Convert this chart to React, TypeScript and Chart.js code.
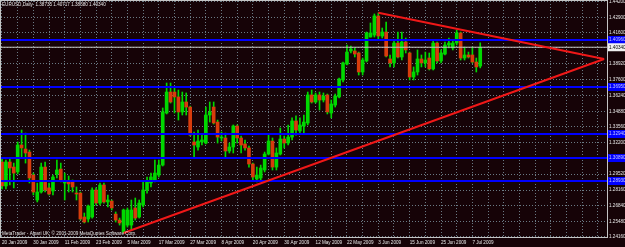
import React, { useEffect, useRef } from 'react';
import { Chart, registerables } from 'chart.js';
Chart.register(...registerables);

const symbolName = 'EURUSD,Daily';
const copyrightText = 'MetaTrader - Alpari UK, \u00a9 2001-2009 MetaQuotes Software Corp.';

const dateLabels = ['20 Jan 2009', '30 Jan 2009', '11 Feb 2009', '23 Feb 2009', '5 Mar 2009', '17 Mar 2009', '27 Mar 2009', '8 Apr 2009', '20 Apr 2009', '30 Apr 2009', '12 May 2009', '22 May 2009', '3 Jun 2009', '15 Jun 2009', '25 Jun 2009', '7 Jul 2009'];

const openP = [1.3055, 1.2851, 1.3055, 1.3012, 1.2970, 1.3200, 1.3166, 1.3140, 1.2944, 1.2731, 1.2799, 1.3012, 1.2834, 1.2808, 1.2953, 1.2995, 1.2876, 1.2885, 1.2885, 1.2790, 1.2790, 1.2586, 1.2569, 1.2586, 1.2816, 1.2705, 1.2859, 1.2714, 1.2722, 1.2611, 1.2560, 1.2458, 1.2517, 1.2517, 1.2663, 1.2586, 1.2688, 1.2816, 1.2876, 1.2902, 1.2944, 1.3029, 1.3473, 1.3652, 1.3652, 1.3610, 1.3482, 1.3567, 1.3524, 1.3226, 1.3183, 1.3226, 1.3217, 1.3456, 1.3524, 1.3396, 1.3260, 1.3260, 1.3149, 1.3183, 1.3362, 1.3260, 1.3209, 1.3175, 1.3038, 1.2910, 1.2919, 1.2987, 1.3123, 1.3234, 1.3012, 1.3123, 1.3251, 1.3217, 1.3268, 1.3405, 1.3320, 1.3362, 1.3388, 1.3627, 1.3567, 1.3627, 1.3584, 1.3627, 1.3473, 1.3541, 1.3610, 1.3755, 1.3891, 1.4002, 1.4002, 1.3985, 1.3823, 1.3917, 1.4121, 1.4138, 1.4301, 1.4130, 1.4164, 1.3934, 1.3900, 1.4070, 1.3951, 1.4079, 1.3985, 1.3780, 1.3823, 1.3934, 1.3900, 1.3942, 1.3849, 1.4070, 1.3917, 1.3976, 1.4053, 1.4028, 1.4070, 1.4156, 1.3942, 1.3968, 1.3968, 1.3908, 1.38735];
const highP = [1.3089, 1.3072, 1.3089, 1.3046, 1.3226, 1.3328, 1.3302, 1.3157, 1.2961, 1.2876, 1.3046, 1.3055, 1.2876, 1.2944, 1.3072, 1.3046, 1.2961, 1.2936, 1.2902, 1.2842, 1.2799, 1.2620, 1.2688, 1.2834, 1.2834, 1.2876, 1.2876, 1.2774, 1.2731, 1.2629, 1.2577, 1.2654, 1.2663, 1.2731, 1.2748, 1.2731, 1.2885, 1.2927, 1.2961, 1.3072, 1.3072, 1.3516, 1.3729, 1.3729, 1.3686, 1.3669, 1.3652, 1.3644, 1.3533, 1.3311, 1.3328, 1.3285, 1.3524, 1.3567, 1.3567, 1.3413, 1.3311, 1.3302, 1.3217, 1.3371, 1.3371, 1.3277, 1.3243, 1.3192, 1.3046, 1.3012, 1.3029, 1.3140, 1.3285, 1.3260, 1.3175, 1.3345, 1.3277, 1.3371, 1.3431, 1.3448, 1.3431, 1.3456, 1.3652, 1.3669, 1.3644, 1.3652, 1.3644, 1.3635, 1.3584, 1.3635, 1.3772, 1.3908, 1.4053, 1.4045, 1.4028, 1.3993, 1.3942, 1.4164, 1.4241, 1.4318, 1.4326, 1.4198, 1.4249, 1.3968, 1.4096, 1.4164, 1.4164, 1.4113, 1.3993, 1.3866, 1.4011, 1.3968, 1.3993, 1.3985, 1.4096, 1.4079, 1.4011, 1.4079, 1.4113, 1.4096, 1.4181, 1.4164, 1.4036, 1.3993, 1.4036, 1.3942, 1.40717];
const lowP = [1.2825, 1.2825, 1.2859, 1.2834, 1.2953, 1.3097, 1.3046, 1.2876, 1.2774, 1.2714, 1.2790, 1.2799, 1.2774, 1.2774, 1.2919, 1.2885, 1.2731, 1.2799, 1.2799, 1.2731, 1.2560, 1.2535, 1.2543, 1.2577, 1.2688, 1.2688, 1.2705, 1.2671, 1.2646, 1.2543, 1.2517, 1.2450, 1.2500, 1.2475, 1.2560, 1.2577, 1.2671, 1.2790, 1.2842, 1.2885, 1.2927, 1.3021, 1.3465, 1.3558, 1.3473, 1.3413, 1.3456, 1.3456, 1.3277, 1.3097, 1.3157, 1.3200, 1.3209, 1.3396, 1.3379, 1.3217, 1.3234, 1.3097, 1.3132, 1.3132, 1.3217, 1.3132, 1.3157, 1.3012, 1.2902, 1.2885, 1.2902, 1.2970, 1.3115, 1.2987, 1.2987, 1.3115, 1.3175, 1.3200, 1.3243, 1.3285, 1.3294, 1.3302, 1.3371, 1.3558, 1.3558, 1.3499, 1.3567, 1.3465, 1.3431, 1.3524, 1.3601, 1.3738, 1.3883, 1.3985, 1.3951, 1.3797, 1.3797, 1.3908, 1.4121, 1.4121, 1.4096, 1.4113, 1.3951, 1.3866, 1.3866, 1.3942, 1.3925, 1.3985, 1.3755, 1.3755, 1.3797, 1.3866, 1.3866, 1.3840, 1.3840, 1.3900, 1.3900, 1.3968, 1.4028, 1.4011, 1.4053, 1.3925, 1.3925, 1.3942, 1.3900, 1.3823, 1.38580];
const closeP = [1.2851, 1.3055, 1.3004, 1.2961, 1.3200, 1.3175, 1.3132, 1.2919, 1.2799, 1.2799, 1.3012, 1.2816, 1.2782, 1.2927, 1.2987, 1.2902, 1.2885, 1.2868, 1.2842, 1.2782, 1.2569, 1.2543, 1.2680, 1.2816, 1.2705, 1.2859, 1.2714, 1.2731, 1.2663, 1.2560, 1.2535, 1.2646, 1.2646, 1.2646, 1.2577, 1.2705, 1.2816, 1.2885, 1.2927, 1.2961, 1.3029, 1.3482, 1.3652, 1.3567, 1.3610, 1.3482, 1.3567, 1.3524, 1.3285, 1.3200, 1.3234, 1.3243, 1.3456, 1.3482, 1.3388, 1.3268, 1.3268, 1.3149, 1.3183, 1.3362, 1.3260, 1.3200, 1.3175, 1.3038, 1.2927, 1.2944, 1.3004, 1.3123, 1.3234, 1.3012, 1.3132, 1.3251, 1.3217, 1.3268, 1.3405, 1.3328, 1.3371, 1.3396, 1.3627, 1.3567, 1.3627, 1.3584, 1.3618, 1.3482, 1.3550, 1.3618, 1.3763, 1.3900, 1.3993, 1.4019, 1.3976, 1.3823, 1.3925, 1.4156, 1.4156, 1.4301, 1.4130, 1.4164, 1.3959, 1.3900, 1.4070, 1.3951, 1.4079, 1.4011, 1.3780, 1.3823, 1.3934, 1.3900, 1.3925, 1.3849, 1.4070, 1.3917, 1.3985, 1.4053, 1.4070, 1.4070, 1.4156, 1.3942, 1.3968, 1.3951, 1.3908, 1.3866, 1.40340];

const priceTicks = [1.4420, 1.4290, 1.4160, 1.4030, 1.3892, 1.3760, 1.3624, 1.3488, 1.3356, 1.3220, 1.3088, 1.2952, 1.2816, 1.2684, 1.2548, 1.2416];
const blueLevels = [1.4096, 1.3695, 1.3294, 1.3089, 1.2893];
const upperTrendBars = [96, 153.6];
const upperTrendPrices = [1.43287, 1.39337];
const lowerTrendBars = [31, 153.6];
const lowerTrendPrices = [1.24495, 1.39337];

const BG = '#160307';
const BULL = '#00d800';
const BEAR = '#d83c0c';
const GRID = '#6a7a84';
const TXT = '#e6e6e6';
const FONT_FAMILY = '"Liberation Sans", Arial, sans-serif';
const FONT_SIZE = 4.6;
const X_MIN = -0.255;
const X_MAX = 154.34;
const Y_MIN = 1.24154;
const Y_MAX = 1.44285;

export default function App() {
  const ref = useRef<HTMLCanvasElement>(null);
  useEffect(() => {
    const n = closeP.length;
    const lastClose = closeP[n - 1];
    const header = `${symbolName}  ${openP[n - 1].toFixed(5)} ${highP[n - 1].toFixed(5)} ${lowP[n - 1].toFixed(5)} ${lastClose.toFixed(5)}`;
    const gridBars: number[] = [];
    for (let v = 0; v <= X_MAX; v += 4) gridBars.push(v);
    const isBull = (i: number) => closeP[i] >= openP[i];

    const plugin = {
      id: 'mt4',
      beforeDraw(chart: any) {
        const c = chart.ctx;
        c.save();
        c.fillStyle = BG;
        c.fillRect(0, 0, chart.width, chart.height);
        c.restore();
      },
      afterDraw(chart: any) {
        const c = chart.ctx;
        const a = chart.chartArea;
        const ys = chart.scales.y;
        c.save();
        c.strokeStyle = '#c4c4c4';
        c.lineWidth = 1;
        c.strokeRect(a.left - 0.5, a.top - 0.5, a.right - a.left + 1, a.bottom - a.top + 1);
        c.font = `${FONT_SIZE}px ${FONT_FAMILY}`;
        c.textBaseline = 'middle';
        c.textAlign = 'left';
        blueLevels.forEach((v) => {
          const py = ys.getPixelForValue(v);
          c.fillStyle = '#0000ff';
          c.fillRect(a.right + 1, py - 4, 20, 8);
          c.fillStyle = '#c8c8ff';
          c.fillText(v.toFixed(5), a.right + 2, py);
        });
        const cy = ys.getPixelForValue(lastClose);
        c.fillStyle = '#f0f0f0';
        c.fillRect(a.right + 1, cy - 4, 20, 8);
        c.fillStyle = '#000000';
        c.fillText(lastClose.toFixed(5), a.right + 2, cy);
        c.fillStyle = TXT;
        c.fillText(header, 2, 5);
        c.fillText(copyrightText, 2, a.bottom - 3);
        c.restore();
      },
    };

    const levelSets = blueLevels.map((v) => ({
      type: 'line' as const,
      data: [{ x: X_MIN, y: v }, { x: X_MAX, y: v }],
      borderColor: '#0000ff',
      borderWidth: 2,
      pointRadius: 0,
      order: 1,
    }));

    const chart = new Chart(ref.current!, {
      type: 'bar',
      data: {
        datasets: [
          {
            type: 'line',
            data: upperTrendBars.map((b, k) => ({ x: b, y: upperTrendPrices[k] })),
            borderColor: '#f01818',
            borderWidth: 2,
            pointRadius: 0,
            order: 0,
          },
          {
            type: 'line',
            data: lowerTrendBars.map((b, k) => ({ x: b, y: lowerTrendPrices[k] })),
            borderColor: '#f01818',
            borderWidth: 2,
            pointRadius: 0,
            order: 0,
          },
          ...levelSets,
          {
            type: 'line',
            data: [{ x: X_MIN, y: lastClose }, { x: X_MAX, y: lastClose }],
            borderColor: '#c4c4c4',
            borderWidth: 1,
            pointRadius: 0,
            order: 1,
          },
          {
            type: 'bar',
            data: closeP.map((_, i) => ({ x: i, y: [openP[i], closeP[i]] })),
            backgroundColor: (ctx: any) => (isBull(ctx.dataIndex) ? BULL : BEAR),
            borderWidth: 0,
            borderSkipped: false,
            barThickness: 3,
            minBarLength: 1,
            grouped: false,
            order: 2,
          } as any,
          {
            type: 'bar',
            data: closeP.map((_, i) => ({ x: i, y: [lowP[i], highP[i]] })),
            backgroundColor: BULL,
            borderWidth: 0,
            barThickness: 1,
            grouped: false,
            order: 3,
          } as any,
        ],
      },
      options: {
        animation: false,
        responsive: false,
        events: [],
        layout: { padding: { left: 1, top: 1, right: 0, bottom: 0 } },
        plugins: { legend: { display: false }, tooltip: { enabled: false } },
        scales: {
          x: {
            type: 'linear',
            position: 'bottom',
            min: X_MIN,
            max: X_MAX,
            offset: false,
            afterFit: (s: any) => {
              s.height = 10;
              s.paddingLeft = 0;
              s.paddingRight = 0;
            },
            afterBuildTicks: (s: any) => {
              s.ticks = gridBars.map((v) => ({ value: v }));
            },
            grid: { color: GRID, lineWidth: 1, drawTicks: false, offset: false },
            border: { display: false, dash: [1, 2] },
            ticks: {
              autoSkip: false,
              maxRotation: 0,
              minRotation: 0,
              align: 'start',
              padding: 3,
              color: TXT,
              font: { family: FONT_FAMILY, size: FONT_SIZE },
              callback: (v: any) => {
                const k = Number(v);
                return k % 8 === 0 && k / 8 < dateLabels.length ? dateLabels[k / 8] : '';
              },
            },
          } as any,
          y: {
            type: 'linear',
            position: 'right',
            min: Y_MIN,
            max: Y_MAX,
            afterFit: (s: any) => {
              s.width = 18;
              s.paddingTop = 0;
              s.paddingBottom = 0;
            },
            afterBuildTicks: (s: any) => {
              s.ticks = priceTicks.map((v) => ({ value: v }));
            },
            grid: { color: GRID, lineWidth: 1, drawTicks: false },
            border: { display: false, dash: [1, 2] },
            ticks: {
              autoSkip: false,
              padding: 2,
              color: TXT,
              font: { family: FONT_FAMILY, size: FONT_SIZE },
              callback: (v: any) => Number(v).toFixed(5),
            },
          } as any,
        },
      },
      plugins: [plugin],
    } as any);
    return () => chart.destroy();
  }, []);

  return (
    <div style={{ position: 'fixed', left: 0, top: 0, width: 625, height: 247, background: BG }}>
      <canvas ref={ref} width={625} height={247} style={{ display: 'block', width: 625, height: 247 }} />
    </div>
  );
}
